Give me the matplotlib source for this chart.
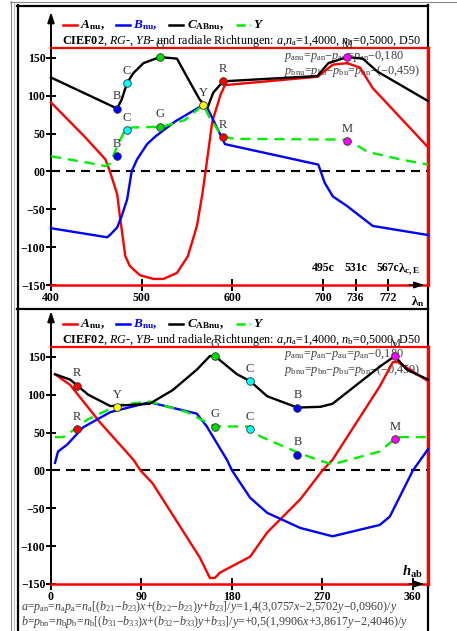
import matplotlib
matplotlib.use("Agg")
import matplotlib.pyplot as plt
from matplotlib.lines import Line2D

plt.rcParams["font.family"] = ["Liberation Serif", "DejaVu Serif"]
plt.rcParams["mathtext.fontset"] = "custom"
plt.rcParams["mathtext.rm"] = "Liberation Serif"
plt.rcParams["mathtext.it"] = "Liberation Serif:italic"
plt.rcParams["mathtext.bf"] = "Liberation Serif:bold"
plt.rcParams["mathtext.bfit"] = "Liberation Serif:bold:italic"

# ---- top panel data: wavelength (nm)
lam_a = [400, 437, 460, 465, 473, 476, 482, 487, 498, 513, 524, 539, 551, 561,
         567, 572, 578, 587, 592, 694, 711, 727, 741, 755, 816]
a_lam = [91, 46, 16, 0, -30, -59, -112, -125, -137, -142, -142, -134, -112, -72,
         -30, 13, 66, 101, 114, 125, 141, 143, 137, 110, 32]

lam_b = [400, 462, 465, 473, 478, 484, 489, 495, 506, 515, 537, 568, 572, 592,
         695, 702, 711, 727, 755, 816]
b_lam = [-75, -87, -84, -74, -59, -37, 0, 16, 36, 46, 66, 88, 85, 36,
         9, -15, -33, -46, -72, -84]

lam_c = [400, 473, 478, 484, 491, 502, 520, 539, 550, 564, 570, 573, 579, 590,
         694, 706, 727, 744, 760, 816]
c_lam = [124, 83, 95, 117, 130, 143, 151, 149, 125, 95, 87, 85, 104, 119,
         126, 143, 151, 149, 132, 93]

lam_y = [400, 443, 460, 465, 474, 482, 489, 523, 548, 568, 575, 589, 603, 727,
         749, 785, 816]
y_lam = [20, 11, 7, 10, 36, 55, 58, 59, 68, 88, 71, 46, 43, 42,
         26, 16, 9]

# markers: label, colour, x, upper value, lower value (None = no lower point)
mk_top_lab = ["B", "C", "G", "Y", "R", "M"]
mk_top_col = ["#0000ff", "#00ffff", "#00dd00", "#ffff00", "#ff0000", "#ff00ff"]
mk_top_x = [473, 484, 520, 568, 590, 727]
mk_top_up = [83, 117, 151, 88, 119, 151]
mk_top_lo = [20, 55, 59, None, 45, 40]

lam_ticks = [400, 500, 600, 700, 736, 772]
lam_c_ticks = [700, 736, 772]
lam_c_labels = ["495c", "531c", "567c"]

# ---- bottom panel data: hue angle (deg)
h_a = [4, 19, 49, 82, 89, 101, 148, 158, 163, 168, 198, 215, 248, 270, 280,
       327, 340, 345, 357, 375]
a_h = [127, 113, 63, 14, 0, -17, -115, -142, -142, -135, -114, -82, -38, 0, 14,
       111, 143, 143, 133, 118]

h_b = [4, 7, 16, 32, 59, 98, 145, 155, 175, 180, 198, 215, 248, 280, 327, 337,
       360, 375]
b_h = [10, 25, 34, 57, 77, 90, 75, 58, 14, 0, -36, -56, -76, -87, -72, -61,
       0, 28]

h_c = [4, 19, 37, 59, 98, 121, 145, 158, 163, 185, 198, 215, 245, 268, 280,
       327, 342, 354, 375]
c_h = [127, 120, 100, 85, 88, 106, 133, 151, 151, 127, 118, 98, 83, 84, 88,
       137, 151, 133, 120]

h_y = [4, 12, 19, 36, 66, 98, 135, 163, 198, 208, 245, 265, 280, 327, 344, 375]
y_h = [44, 44, 50, 67, 86, 91, 77, 58, 58, 45, 24, 14, 8, 25, 44, 44]

mk_bot_lab = ["R", "Y", "G", "C", "B", "M"]
mk_bot_col = ["#ff0000", "#ffff00", "#00dd00", "#00ffff", "#0000ff", "#ff00ff"]
mk_bot_x = [26, 66, 163, 198, 245, 342]
mk_bot_up = [112, 84, 151, 118, 83, 151]
mk_bot_lo = [55, None, 58, 55, 21, 41]

h_ticks = [0, 90, 180, 270, 360]
y_ticks = [-150, -100, -50, 0, 50, 100, 150]
y_labels = ["\u2212150", "\u2212100", "\u221250", "00", "50", "100", "150"]

RED = "#ff0000"
BLUE = "#0000ff"
GREEN = "#00ee00"
GRAY = "#404040"
DASH = (0, (4.3, 2.9))

W, H = 457, 631
fig = plt.figure(figsize=(W / 100, H / 100), dpi=100)

# overlay in pixel coords for frames and free text
bg = fig.add_axes([0, 0, 1, 1])
bg.set_xlim(0, W)
bg.set_ylim(H, 0)
bg.axis("off")


def px_rect(l, t, r, b):
    return [l / W, 1 - b / H, (r - l) / W, (b - t) / H]


def hline(y, x0, x1, **kw):
    bg.add_line(Line2D([x0, x1], [y, y], **kw))


def vline(x, y0, y1, **kw):
    bg.add_line(Line2D([x, x], [y0, y1], **kw))


# outer frames
vline(10.5, 1, H, color="#888888", lw=0.8)
vline(14, 3, H, color="#bbbbbb", lw=0.8)
hline(1.5, 10, W, color="#888888", lw=0.8)
vline(17.5, 5, H, color="black", lw=1.6)
hline(5.5, 17, 428, color="black", lw=1.6)
vline(427.5, 5, H, color="black", lw=1.6)
hline(308.5, 17, 428, color="black", lw=1.6)


def legend_row(y):
    samples = [(63, 77, RED, "-"), (116, 130, BLUE, "-"),
               (169, 183, "black", "-"), (236, 250, GREEN, "--")]
    for x0, x1, c, ls in samples:
        bg.add_line(Line2D([x0, x1], [y, y], color=c, lw=1.8, ls=ls))
    bg.text(80, y, r"$\mathbfit{A}_\mathbf{nu}$,", fontsize=9.5,
            fontweight="bold", va="center")
    bg.text(133, y, r"$\mathbfit{B}_\mathbf{nu}$,", fontsize=9.5,
            fontweight="bold", va="center", color=BLUE)
    bg.text(187, y, r"$\mathbfit{C}_\mathbf{ABnu}$,", fontsize=9.5,
            fontweight="bold", va="center")
    bg.text(253, y, r"$\mathbfit{Y}$", fontsize=9.5, va="center")
    bg.text(62, y + 16,
            r"$\mathbf{CIEF02}$, $\mathit{RG}$-, $\mathit{YB}$- und radiale "
            r"Richtungen: $a$,$n_\mathrm{a}$=1,4000, $n_\mathrm{b}$=0,5000, D50",
            fontsize=8.75, va="center")


legend_row(25)
legend_row(324)


def make_panel(rect, xlim, xticks):
    ax = fig.add_axes(px_rect(*rect))
    ax.set_facecolor("none")
    ax.set_xlim(*xlim)
    ax.set_ylim(-150, 163)
    for side in ["top", "right", "bottom"]:
        ax.spines[side].set_color(RED)
    ax.spines["top"].set_linewidth(1.6)
    ax.spines["bottom"].set_linewidth(1.8)
    ax.spines["right"].set_linewidth(2.4)
    ax.spines["left"].set_color("black")
    ax.spines["left"].set_linewidth(1.4)
    ax.set_yticks(y_ticks)
    ax.set_yticklabels(y_labels)
    ax.set_xticks(xticks)
    ax.tick_params(axis="both", direction="inout", width=1.4, color="black",
                   labelsize=8.5, pad=0.5)
    ax.tick_params(axis="y", length=7)
    ax.tick_params(axis="x", length=8, pad=1)
    for lab in ax.get_xticklabels() + ax.get_yticklabels():
        lab.set_fontweight("bold")
    # axis arrows
    ax.plot([0, 0], [1, 1.11], color="black", lw=1.4, transform=ax.transAxes,
            clip_on=False)
    ax.annotate("", xy=(0, 1.152), xytext=(0, 1.1), xycoords="axes fraction",
                arrowprops=dict(arrowstyle="-|>,head_length=0.6,head_width=0.2",
                                color="black", lw=1.4, shrinkA=0, shrinkB=0))
    ax.annotate("", xy=(0.99, 0), xytext=(0.95, 0), xycoords="axes fraction",
                arrowprops=dict(arrowstyle="-|>,head_length=0.6,head_width=0.2",
                                color="black", lw=1.0, shrinkA=0, shrinkB=0))
    ax.axhline(0, color="black", lw=1.5, ls=DASH)
    return ax


def draw_curves(ax, ca, cb, cc, cy):
    ax.plot(ca[0], ca[1], color=RED, lw=1.7, clip_on=False, zorder=3)
    ax.plot(cb[0], cb[1], color=BLUE, lw=1.7, clip_on=False, zorder=3)
    ax.plot(cc[0], cc[1], color="black", lw=1.7, clip_on=False, zorder=4)
    ax.plot(cy[0], cy[1], color=GREEN, lw=1.7, ls=DASH, clip_on=False, zorder=3)


def draw_markers(ax, labs, cols, xs, ups, los):
    for lab, col, x, up, lo in zip(labs, cols, xs, ups, los):
        for v in (up, lo):
            if v is None:
                continue
            ax.plot(x, v, "o", ms=5.5, color=col, mec="#333333", mew=0.6,
                    zorder=6, clip_on=False)
            ax.annotate(lab, (x, v), xytext=(0, 4.5), textcoords="offset points",
                        ha="center", va="bottom", fontsize=9, color="#333333",
                        zorder=6)


def p_texts(top):
    bg.text(284, top + 8,
            r"$p_\mathrm{anu}$=$p_\mathrm{an}$$-$$p_\mathrm{au}$=$p_\mathrm{an}$$-$0,180",
            fontsize=8.8, va="center", color=GRAY)
    bg.text(284, top + 23,
            r"$p_\mathrm{bnu}$=$p_\mathrm{bn}$$-$$p_\mathrm{bu}$=$p_\mathrm{bn}$$-$($-$0,459)",
            fontsize=8.8, va="center", color=GRAY)


# ---- top panel
p_texts(48)
ax1 = make_panel((51, 48, 428, 285), (400, 816), lam_ticks)
draw_curves(ax1, (lam_a, a_lam), (lam_b, b_lam), (lam_c, c_lam), (lam_y, y_lam))
draw_markers(ax1, mk_top_lab, mk_top_col, mk_top_x, mk_top_up, mk_top_lo)
for x, lab in zip(lam_c_ticks, lam_c_labels):
    ax1.annotate(lab, (x, -150), xytext=(0, 8), textcoords="offset points",
                 ha="center", va="bottom", fontsize=8.5, fontweight="bold")
bg.text(398, 270, "\u03bb$_\\mathbf{c,E}$", fontsize=9.5, fontweight="bold",
        va="center")
bg.text(411, 302, "\u03bb$_\\mathbf{n}$", fontsize=9.5, fontweight="bold",
        va="center")

# ---- bottom panel
p_texts(347)
ax2 = make_panel((51, 347, 428, 584), (0, 375), h_ticks)
draw_curves(ax2, (h_a, a_h), (h_b, b_h), (h_c, c_h), (h_y, y_h))
draw_markers(ax2, mk_bot_lab, mk_bot_col, mk_bot_x, mk_bot_up, mk_bot_lo)
bg.text(402, 572, r"$\mathbfit{h}_\mathbf{ab}$", fontsize=10.5, va="center")

bg.text(21, 607,
        r"$a$=$p_\mathrm{an}$=$n_\mathrm{a}p_\mathrm{a}$=$n_\mathrm{a}$[($b_{21}$$-$$b_{23}$)$x$+"
        r"($b_{22}$$-$$b_{23}$)$y$+$b_{23}$]/$y$=1,4(3,0757$x$$-$2,5702$y$$-$0,0960)/$y$",
        fontsize=8.65, va="center", color=GRAY)
bg.text(21, 622,
        r"$b$=$p_\mathrm{bn}$=$n_\mathrm{b}p_\mathrm{b}$=$n_\mathrm{b}$[($b_{31}$$-$$b_{33}$)$x$+"
        r"($b_{32}$$-$$b_{33}$)$y$+$b_{33}$]/$y$=+0,5(1,9906$x$+3,8617$y$$-$2,4046)/$y$",
        fontsize=8.65, va="center", color=GRAY)

fig.savefig("out.png", dpi=100)
